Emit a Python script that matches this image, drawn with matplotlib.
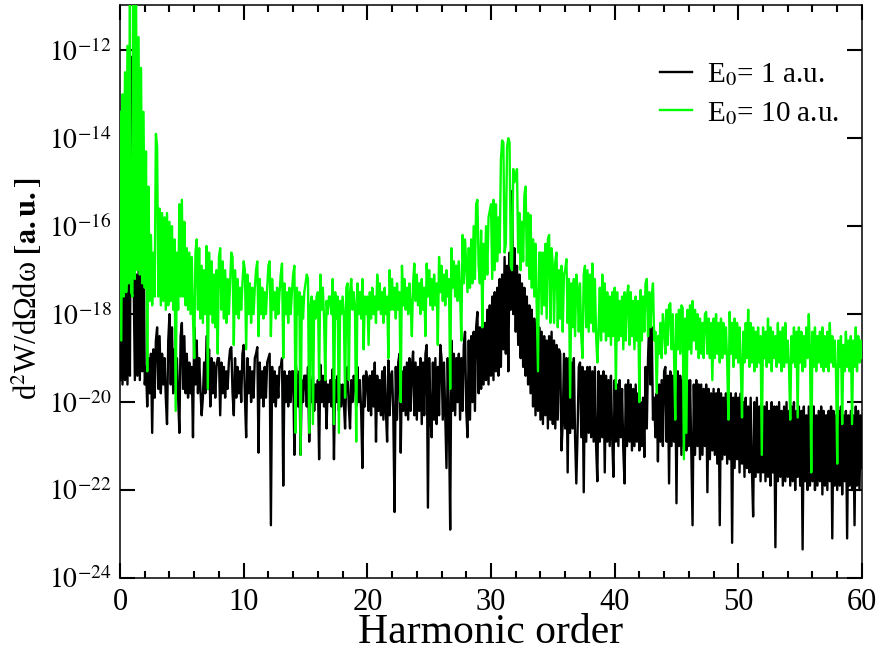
import matplotlib
matplotlib.use("Agg")
import matplotlib.pyplot as plt
from matplotlib.ticker import MultipleLocator, NullLocator
import numpy as np

plt.rcParams["font.family"] = ["Liberation Serif", "DejaVu Serif"]
plt.rcParams["mathtext.fontset"] = "stix"

# harmonic order axis, sampled every 0.1
harmonic = np.arange(601) / 10.0

# log10 of d2W/dOmega domega for E0 = 1 a.u., ten samples per harmonic
weak_log = [
    -19.5, -17.6, -19.6, -17.5, -19.5, -17.4, -19.6, -17.3, -19.4, -12.15,
    -17.3, -17.2, -19.5, -17.1, -19.4, -17.0, -19.5, -16.9, -19.3, -15.65,
    -19.6, -19.2, -20.1, -19.0, -19.8, -18.9, -20.7, -18.8, -19.9, -18.6,
    -18.3, -19.7, -18.5, -19.8, -18.9, -19.6, -19.0, -19.9, -20.5, -18.6,
    -18.0, -19.6, -18.3, -19.8, -18.8, -19.7, -19.0, -19.9, -20.7, -18.5,
    -18.2, -19.7, -18.5, -19.8, -18.9, -19.9, -19.1, -19.8, -19.2, -20.8,
    -18.3, -19.6, -18.6, -19.8, -19.0, -19.7, -20.3, -19.9, -19.1, -19.8,
    -18.5, -19.7, -18.8, -20.1, -19.0, -19.8, -19.1, -19.9, -19.2, -19.0,
    -19.0, -20.3, -19.1, -19.8, -19.2, -19.9, -19.3, -19.7, -19.1, -18.8,
    -18.75, -19.8, -20.3, -19.0, -19.9, -19.2, -19.8, -19.3, -20.0, -18.9,
    -18.7, -19.9, -20.8, -19.0, -19.8, -19.2, -20.0, -19.3, -19.9, -19.0,
    -18.9, -18.75, -21.15, -19.1, -19.9, -19.3, -20.1, -19.2, -19.9, -19.1,
    -19.0, -18.9, -22.8, -19.2, -20.0, -19.3, -20.1, -19.4, -19.9, -19.2,
    -19.2, -19.0, -21.9, -19.3, -20.0, -19.4, -20.1, -19.3, -20.0, -19.3,
    -19.3, -21.2, -19.1, -19.4, -20.1, -19.3, -21.2, -19.5, -20.0, -19.4,
    -19.4, -20.1, -19.2, -20.9, -19.5, -20.0, -19.4, -20.2, -19.6, -20.0,
    -19.5, -21.3, -19.15, -20.0, -19.4, -20.1, -19.5, -20.6, -19.6, -20.0,
    -19.5, -20.1, -19.25, -21.3, -19.5, -20.0, -19.4, -20.2, -19.6, -20.1,
    -19.6, -20.0, -20.6, -19.4, -19.2, -20.1, -20.6, -19.5, -20.0, -19.4,
    -19.6, -20.1, -19.2, -20.0, -19.5, -20.2, -21.5, -19.4, -20.1, -19.3,
    -19.5, -20.2, -19.4, -20.3, -19.3, -20.1, -19.1, -20.9, -19.4, -20.2,
    -19.5, -20.3, -19.3, -20.4, -19.2, -20.2, -20.9, -19.05, -20.3, -19.4,
    -19.3, -20.3, -22.5, -19.2, -20.4, -19.1, -18.9, -21.15, -19.3, -20.2,
    -19.2, -20.3, -19.1, -20.4, -19.0, -20.2, -19.2, -18.85, -20.3, -19.1,
    -20.4, -19.2, -20.2, -19.0, -20.5, -19.1, -20.3, -18.9, -18.7, -22.4,
    -19.0, -20.3, -20.8, -19.1, -20.4, -19.0, -20.5, -19.2, -20.3, -18.7,
    -19.0, -20.4, -19.1, -20.3, -21.5, -19.0, -20.4, -22.9, -18.6, -20.2,
    -18.9, -20.3, -19.0, -20.0, -18.9, -20.4, -19.0, -20.2, -18.7, -18.4,
    -20.2, -20.8, -18.6, -20.4, -18.5, -20.0, -18.4, -20.2, -18.3, -17.95,
    -19.8, -18.3, -19.7, -18.1, -19.6, -18.2, -19.5, -17.9, -19.6, -17.8,
    -19.4, -17.6, -19.5, -17.5, -19.3, -17.4, -19.4, -17.2, -19.2, -17.1,
    -18.8, -16.7, -18.9, -16.9, -19.3, -16.6, -17.9, -15.2, -18.0, -16.5,
    -18.4, -16.9, -18.7, -17.1, -19.0, -17.3, -19.2, -17.4, -19.4, -17.6,
    -19.6, -17.8, -19.8, -17.9, -20.1, -18.1, -20.3, -18.2, -20.2, -18.3,
    -20.4, -18.4, -20.5, -18.5, -20.3, -18.6, -20.6, -18.5, -20.4, -18.4,
    -20.5, -18.6, -20.6, -18.7, -20.4, -18.8, -18.9, -21.1, -20.5, -18.9,
    -20.6, -19.0, -21.6, -19.0, -20.7, -19.1, -20.6, -19.0, -20.8, -21.85,
    -20.7, -19.2, -19.1, -20.8, -19.2, -22.05, -19.3, -20.9, -19.2, -20.7,
    -19.2, -20.8, -19.3, -20.9, -19.2, -21.0, -21.8, -19.3, -20.9, -19.4,
    -20.8, -19.3, -21.6, -19.4, -20.9, -19.5, -21.0, -19.4, -20.8, -21.7,
    -19.5, -20.9, -19.6, -21.0, -19.5, -20.8, -19.7, -21.1, -21.85, -19.6,
    -21.0, -19.5, -20.9, -19.6, -21.1, -19.7, -21.0, -19.6, -20.9, -19.8,
    -21.1, -20.0, -21.0, -19.9, -21.25, -19.2, -20.6, -19.0, -18.15, -19.6,
    -18.3, -20.4, -19.9, -20.8, -19.8, -21.35, -19.6, -20.9, -19.5, -21.0,
    -19.3, -19.2, -20.9, -19.4, -21.85, -19.3, -21.0, -19.4, -20.9, -19.3,
    -22.3, -19.3, -21.0, -19.4, -21.2, -19.5, -21.0, -19.3, -21.1, -19.5,
    -21.0, -19.5, -21.1, -22.8, -19.6, -21.2, -19.5, -21.0, -19.6, -21.3,
    -19.6, -21.2, -19.7, -21.0, -19.6, -22.05, -19.7, -21.3, -19.8, -21.1,
    -19.7, -21.2, -19.8, -21.4, -19.7, -22.8, -19.8, -21.3, -19.9, -21.2,
    -19.8, -21.4, -19.9, -21.3, -19.8, -23.2, -19.9, -21.5, -19.8, -21.3,
    -19.9, -21.6, -19.8, -21.4, -20.0, -21.7, -19.9, -21.5, -20.1, -21.6,
    -19.9, -21.5, -22.6, -20.0, -21.7, -19.9, -21.6, -20.1, -21.8, -20.0,
    -21.6, -20.1, -21.8, -20.0, -21.7, -20.2, -21.9, -20.0, -21.6, -20.1,
    -23.3, -20.1, -21.8, -20.0, -21.7, -20.2, -21.9, -20.1, -21.8, -20.0,
    -21.7, -20.2, -21.9, -20.1, -21.8, -20.0, -22.0, -20.2, -21.7, -20.1,
    -21.9, -20.2, -23.35, -20.1, -21.8, -20.3, -22.0, -20.1, -21.9, -20.2,
    -21.8, -20.1, -22.0, -20.3, -21.9, -20.2, -21.8, -20.1, -22.1, -20.2,
    -21.9, -20.3, -22.0, -20.2, -21.8, -20.1, -23.1, -20.2, -21.9, -20.3,
    -22.0, -20.2, -21.9, -20.1, -22.1, -20.3, -21.8, -20.2, -23.1, -20.3,
    -21.9, -20.2, -22.0, -20.3, -22.8, -20.1, -21.9, -20.2, -22.0, -20.3,
    -21.5,
]

# log10 of d2W/dOmega domega for E0 = 10 a.u.
strong_log = [
    -13.4, -18.6, -13.0, -17.6, -12.5, -17.5, -11.9, -17.3, -10.8, -17.5,
    -17.6, -10.8, -17.2, -10.9, -17.0, -11.7, -17.1, -12.4, -17.3, -13.4,
    -17.4, -14.3, -19.3, -15.1, -17.7, -16.2, -17.8, -16.6, -17.6, -13.9,
    -14.2, -17.6, -15.6, -17.8, -15.7, -17.7, -15.8, -17.9, -15.7, -17.8,
    -15.9, -17.7, -16.0, -17.9, -16.3, -20.2, -16.6, -17.9, -15.5, -17.6,
    -15.4, -17.6, -15.9, -17.8, -16.5, -17.9, -16.6, -18.0, -16.7, -18.1,
    -19.0, -16.6, -16.3, -17.9, -16.5, -18.1, -16.9, -18.2, -17.0, -18.0,
    -16.45, -19.7, -16.6, -18.0, -16.8, -18.2, -17.1, -18.3, -17.0, -18.9,
    -16.7, -16.5, -17.9, -16.8, -18.1, -17.0, -18.2, -17.2, -18.0, -17.3,
    -16.6, -16.7, -18.7, -17.0, -18.0, -17.2, -18.1, -17.4, -17.9, -17.3,
    -16.8, -17.0, -18.8, -17.1, -18.0, -17.3, -18.2, -17.4, -18.0, -17.4,
    -17.0, -16.8, -18.5, -17.2, -18.0, -17.4, -18.1, -17.5, -18.0, -17.4,
    -16.9, -16.8, -18.5, -17.2, -17.9, -17.5, -18.1, -17.4, -18.0, -17.5,
    -17.1, -16.85, -19.0, -17.3, -18.0, -17.5, -18.2, -17.4, -18.0, -17.5,
    -17.1, -16.9, -20.7, -17.4, -18.0, -17.5, -21.2, -17.6, -18.1, -17.5,
    -17.3, -17.1, -17.2, -20.7, -17.8, -17.6, -20.5, -17.7, -18.1, -17.6,
    -17.5, -19.5, -17.1, -17.9, -17.4, -18.1, -19.5, -17.7, -18.0, -17.6,
    -17.6, -18.0, -17.2, -20.5, -17.5, -18.1, -17.6, -20.7, -17.7, -18.0,
    -17.6, -18.0, -19.9, -17.4, -17.3, -19.5, -17.5, -17.2, -17.9, -17.5,
    -17.8, -20.9, -17.3, -18.0, -17.5, -18.1, -17.2, -18.8, -17.6, -18.0,
    -17.6, -18.7, -17.5, -18.1, -17.4, -18.0, -17.6, -18.2, -17.1, -17.9,
    -17.3, -18.0, -17.5, -18.2, -17.4, -18.0, -17.6, -19.0, -17.0, -17.9,
    -17.2, -17.9, -17.4, -18.1, -17.3, -17.9, -17.5, -20.0, -16.9, -17.8,
    -17.2, -17.9, -17.4, -18.0, -17.3, -17.8, -18.5, -17.3, -16.85, -17.7,
    -17.1, -17.8, -17.3, -18.0, -17.2, -17.9, -17.4, -18.5, -16.85, -17.6,
    -17.0, -17.8, -17.2, -17.9, -17.1, -17.8, -17.3, -18.7, -16.7, -17.5,
    -16.9, -17.7, -17.1, -17.8, -17.0, -17.6, -17.2, -19.7, -16.5, -17.4,
    -16.8, -17.6, -16.9, -17.7, -16.8, -17.5, -18.6, -16.2, -17.3, -16.3,
    -16.9, -17.5, -16.5, -17.4, -16.3, -17.3, -16.0, -17.2, -15.5, -15.4,
    -16.9, -17.3, -16.1, -18.3, -16.4, -17.2, -16.0, -17.1, -15.8, -15.65,
    -15.5, -17.2, -15.4, -17.0, -15.5, -16.8, -15.8, -16.6, -14.5, -14.05,
    -14.1, -16.6, -16.4, -14.2, -14.0, -14.1, -16.9, -17.0, -14.7, -15.0,
    -14.9, -14.7, -16.6, -15.7, -17.0, -15.9, -16.8, -15.3, -15.1, -16.9,
    -15.7, -17.2, -15.75, -17.4, -16.3, -17.6, -16.4, -17.8, -19.3, -16.6,
    -16.6, -18.0, -16.6, -17.8, -16.4, -18.1, -16.3, -16.2, -18.2, -16.5,
    -16.9, -18.2, -16.8, -16.6, -18.3, -17.0, -18.1, -16.9, -18.4, -17.1,
    -17.0, -16.75, -18.2, -17.2, -19.9, -17.3, -18.3, -17.2, -18.5, -17.1,
    -17.4, -18.4, -17.3, -18.5, -19.0, -17.1, -16.9, -18.3, -17.0, -18.4,
    -17.1, -18.2, -16.85, -18.4, -17.2, -18.5, -19.1, -18.3, -17.4, -18.6,
    -17.1, -18.4, -17.3, -18.6, -17.5, -18.5, -17.6, -18.7, -17.5, -18.5,
    -17.4, -19.7, -17.5, -18.6, -17.7, -18.5, -17.6, -18.8, -17.5, -18.6,
    -17.6, -17.35, -18.7, -17.5, -18.5, -17.7, -18.8, -17.6, -18.6, -17.7,
    -20.0, -17.45, -18.6, -17.6, -18.4, -17.3, -17.2, -18.5, -17.5, -18.3,
    -17.6, -17.3, -18.6, -18.4, -19.8, -18.5, -18.9, -18.2, -19.0, -18.0,
    -18.3, -18.9, -17.9, -18.7, -17.8, -17.75, -18.8, -18.0, -18.9, -20.4,
    -18.0, -18.8, -17.9, -18.9, -17.8, -17.85, -21.3, -18.1, -20.7, -17.9,
    -18.8, -17.8, -18.9, -17.7, -18.6, -17.9, -18.8, -18.0, -19.0, -18.1,
    -18.9, -18.2, -19.0, -18.0, -17.95, -18.9, -18.1, -19.0, -18.2, -19.5,
    -18.1, -19.0, -18.0, -18.9, -18.2, -19.1, -18.1, -19.0, -18.2, -18.9,
    -18.3, -19.1, -20.4, -17.95, -18.9, -18.2, -19.2, -18.1, -19.0, -18.2,
    -19.1, -18.3, -19.2, -20.35, -18.4, -19.1, -18.2, -19.0, -17.9, -19.2,
    -18.2, -19.1, -18.3, -19.3, -18.4, -19.2, -18.3, -19.1, -18.5, -21.2,
    -18.3, -19.0, -18.4, -19.2, -18.1, -19.1, -18.3, -19.3, -18.4, -19.0,
    -18.5, -19.2, -18.2, -19.1, -18.4, -19.3, -18.3, -19.2, -18.2, -19.1,
    -18.6, -19.2, -20.4, -18.5, -19.1, -18.3, -19.2, -18.4, -20.35, -18.3,
    -19.1, -18.4, -19.3, -18.5, -19.2, -18.3, -19.0, -18.0, -18.9, -21.6,
    -18.4, -19.2, -18.3, -19.3, -18.5, -19.1, -18.4, -19.2, -18.3, -19.3,
    -18.5, -19.2, -18.4, -19.3, -18.2, -19.1, -18.5, -19.2, -18.6, -19.3,
    -21.4, -18.6, -19.2, -18.5, -20.5, -18.7, -19.3, -18.4, -19.2, -18.6,
    -19.3, -18.5, -20.5, -18.6, -19.2, -18.3, -19.3, -18.5, -19.1, -18.6,
    -19.0,
]

series_labels = ["E$_0$= 1 a.u.", "E$_0$= 10 a.u."]
ytick_exponents = [-24, -22, -20, -18, -16, -14, -12]

fig = plt.figure(figsize=(8.8, 6.52), dpi=100)
ax = fig.add_axes([0.1364, 0.1135, 0.8431, 0.8788])

ax.plot(harmonic, 10.0 ** np.array(weak_log), color="black", lw=1.7,
        label=series_labels[0], zorder=2)
ax.plot(harmonic, 10.0 ** np.array(strong_log), color="#00ff00", lw=1.7,
        label=series_labels[1], zorder=3)

ax.set_yscale("log")
ax.set_xlim(0, 60)
ax.set_ylim(1e-24, 1.07e-11)

ax.xaxis.set_major_locator(MultipleLocator(10))
ax.xaxis.set_minor_locator(MultipleLocator(2))
ax.set_yticks([10.0 ** e for e in ytick_exponents])
ax.set_yticklabels(["$10^{%d}$" % e for e in ytick_exponents])
ax.yaxis.set_minor_locator(NullLocator())

ax.tick_params(which="both", direction="in", top=True, right=True)
ax.tick_params(which="major", length=11, width=1.5)
ax.tick_params(which="minor", length=5, width=1.5)
ax.tick_params(axis="x", pad=7, labelsize=22)
ax.tick_params(axis="y", pad=6, labelsize=20)
for spine in ax.spines.values():
    spine.set_linewidth(1.1)

ax.set_xlabel("Harmonic order", fontsize=30, labelpad=-2)
ax.set_ylabel("d$^2$W/dΩdω $\\mathbf{[a.u.]}$", fontsize=22)
ax.yaxis.set_label_coords(-0.103, 0.505)

ax.legend(loc="upper left", bbox_to_anchor=(0.728, 0.902), frameon=False,
          fontsize=21, handlelength=1.1, handletextpad=0.5,
          labelspacing=0.4, borderpad=0, borderaxespad=0)

plt.savefig("out.png", dpi=100)
